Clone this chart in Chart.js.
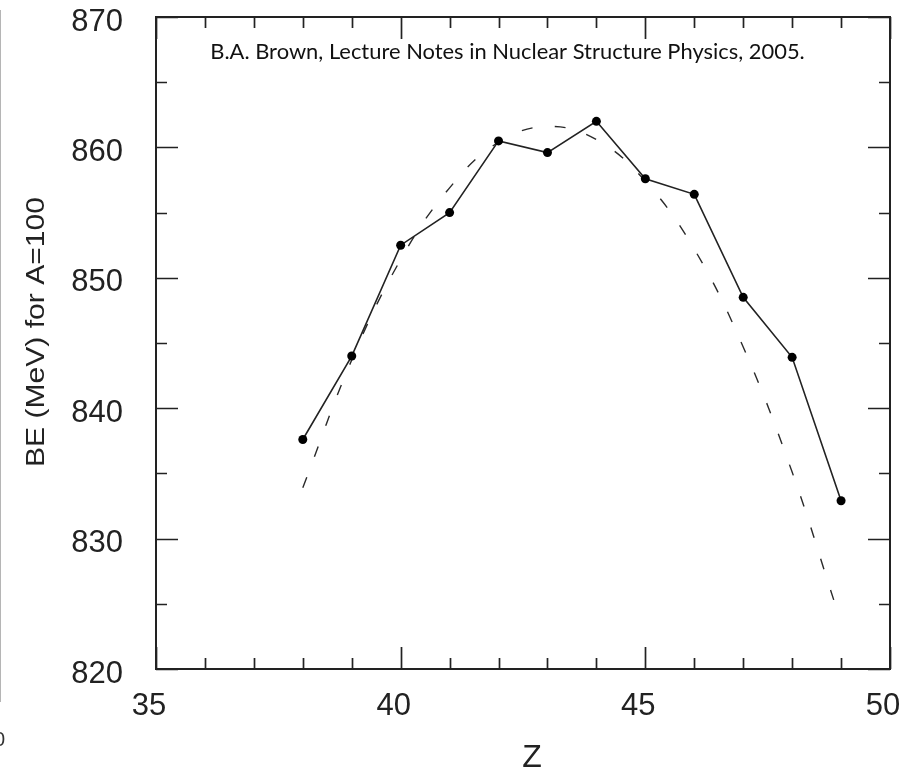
<!DOCTYPE html>
<html>
<head>
<meta charset="utf-8">
<script src="https://cdn.jsdelivr.net/npm/chart.js@4.4.1/dist/chart.umd.min.js"></script>
<style>
  html, body { margin: 0; padding: 0; background: #fff; }
  #wrap { position: relative; width: 902px; height: 769px; overflow: hidden; }
  #edge { position: absolute; left: 0; top: 10px; width: 1px; height: 692px; background: #b5b5b5; }
  #frag { position: absolute; left: -6px; top: 728px; font: 20px "Liberation Sans", Arial, sans-serif; color: #333; }
</style>
</head>
<body>
<div id="wrap">
  <canvas id="c" width="902" height="769"></canvas>
  <div id="edge"></div>
  <div id="frag">0</div>
</div>
<script>
// ---- data ----
const zExp  = [38, 39, 40, 41, 42, 43, 44, 45, 46, 47, 48, 49];
const beExp = [837.6, 844.0, 852.5, 855.0, 860.5, 859.6, 862.0, 857.6, 856.4, 848.5, 843.9, 832.9];
const zLD   = [38, 39, 40, 41, 42, 43, 44, 45, 46, 47, 48, 48.85];
const beLD  = [833.9, 843.7, 851.4, 856.9, 860.4, 861.6, 860.6, 857.4, 852.2, 844.7, 835.1, 825.3];
const xMajorTicks = [35, 40, 45, 50];
const xMinorTicks = [36, 37, 38, 39, 41, 42, 43, 44, 46, 47, 48, 49];
const yMajorTicks = [820, 830, 840, 850, 860, 870];
const yMinorTicks = [825, 835, 845, 855, 865];
const xTitle = 'Z';
const yTitle = 'BE (MeV) for A=100';
const note = 'B.A. Brown, Lecture Notes in Nuclear Structure Physics, 2005.';

const INK = '#222';
const SANS = '"Liberation Sans", Arial, sans-serif';

const framePlugin = {
  id: 'frame',
  afterDraw(chart) {
    const { ctx, chartArea: a, scales: { x, y } } = chart;
    ctx.save();
    // box
    ctx.strokeStyle = INK;
    ctx.lineWidth = 2;
    ctx.strokeRect(a.left, a.top, a.right - a.left, a.bottom - a.top);
    // inward ticks on all four sides
    ctx.lineWidth = 1.7;
    const MAJ = 22, MIN = 11;
    ctx.beginPath();
    const xt = (v, len) => {
      const px = Math.round(x.getPixelForValue(v)) + 0.5;
      ctx.moveTo(px, a.bottom); ctx.lineTo(px, a.bottom - len);
      ctx.moveTo(px, a.top); ctx.lineTo(px, a.top + len);
    };
    const yt = (v, len) => {
      const py = Math.round(y.getPixelForValue(v)) + 0.5;
      ctx.moveTo(a.left, py); ctx.lineTo(a.left + len, py);
      ctx.moveTo(a.right, py); ctx.lineTo(a.right - len, py);
    };
    xMajorTicks.forEach(v => xt(v, MAJ));
    xMinorTicks.forEach(v => xt(v, MIN));
    yMajorTicks.forEach(v => yt(v, MAJ));
    yMinorTicks.forEach(v => yt(v, MIN));
    ctx.stroke();

    // annotation
    ctx.font = '100px Lato';
    const w100 = ctx.measureText(note).width;
    const fs = 100 * 595 / w100;
    ctx.font = fs.toFixed(2) + 'px Lato';
    ctx.textAlign = 'center';
    ctx.textBaseline = 'alphabetic';
    ctx.fillStyle = '#111';
    ctx.fillText(note, 507.5, 59);

    // x title
    ctx.fillStyle = INK;
    ctx.font = '32px ' + SANS;
    ctx.fillText(xTitle, 532, 767);

    // y title (rotated)
    ctx.save();
    ctx.translate(35, 332);
    ctx.rotate(-Math.PI / 2);
    ctx.font = '25px ' + SANS;
    const tw = ctx.measureText(yTitle).width;
    ctx.scale(270 / tw, 1);
    ctx.textAlign = 'center';
    ctx.fillText(yTitle, 0, 9);
    ctx.restore();

    ctx.restore();
  }
};

new Chart(document.getElementById('c'), {
  type: 'line',
  data: {
    datasets: [
      {
        label: 'data',
        data: zExp.map((z, i) => ({ x: z, y: beExp[i] })),
        borderColor: INK,
        borderWidth: 1.6,
        pointRadius: 4.5,
        pointBackgroundColor: '#000',
        pointBorderColor: '#000',
        pointBorderWidth: 0,
        tension: 0,
        fill: false
      },
      {
        label: 'liquid drop',
        data: zLD.map((z, i) => ({ x: z, y: beLD[i] })),
        borderColor: '#2a2a2a',
        borderWidth: 1.4,
        borderDash: [11, 22],
        pointRadius: 0,
        tension: 0.4,
        fill: false
      }
    ]
  },
  options: {
    responsive: false,
    animation: false,
    events: [],
    layout: { padding: { top: 17, right: 12, left: 0, bottom: 0 } },
    plugins: { legend: { display: false }, tooltip: { enabled: false }, title: { display: false } },
    scales: {
      x: {
        type: 'linear',
        min: 35, max: 50,
        grid: { display: false, drawTicks: false },
        border: { display: false },
        ticks: {
          stepSize: 5,
          padding: 22,
          labelOffset: -7,
          color: INK,
          font: { family: SANS, size: 31, lineHeight: 1 },
          maxRotation: 0
        },
        afterFit(s) { s.height = 100; s.paddingLeft = 0; s.paddingRight = 0; }
      },
      y: {
        type: 'linear',
        min: 820, max: 870,
        grid: { display: false, drawTicks: false },
        border: { display: false },
        ticks: {
          stepSize: 10,
          padding: 33,
          labelOffset: 5,
          color: INK,
          font: { family: SANS, size: 31, lineHeight: 1 }
        },
        afterFit(s) { s.width = 156; s.paddingTop = 0; s.paddingBottom = 0; }
      }
    }
  },
  plugins: [framePlugin]
});
</script>
</body>
</html>
